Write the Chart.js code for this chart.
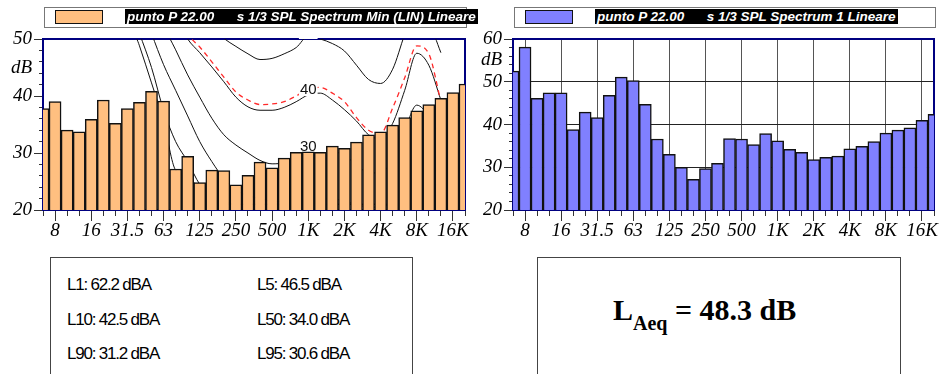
<!DOCTYPE html>
<html>
<head>
<meta charset="utf-8">
<script src="https://cdn.jsdelivr.net/npm/chart.js@4.4.1/dist/chart.umd.min.js"></script>
<style>
  html, body { margin: 0; padding: 0; background: #fff; }
  body { width: 939px; height: 374px; position: relative; overflow: hidden; font-family: 'Liberation Sans', Arial, sans-serif; }
  canvas { position: absolute; top: 0; }
  #chartMin { left: 0; }
  #chartOne { left: 470px; }
  .legend { position: absolute; top: 7px; height: 19px; border: 1px solid #777; background: #fff; z-index: 2; }
  .legend .swatch { position: absolute; top: 2px; left: 10px; width: 46px; height: 12px; border: 1px solid #111; }
  .legend .caption { position: absolute; top: 1px; left: 80px; height: 15px; line-height: 15px; background: #000; color: #fff;
    font: italic bold 13.5px 'Liberation Sans', Arial, sans-serif; white-space: pre; padding: 0 2px; }
  .box { position: absolute; top: 257px; height: 140px; border: 1px solid #444; background: #fff; }
  .stat { position: absolute; font: 17px 'Liberation Sans', Arial, sans-serif; letter-spacing: -1.2px; line-height: 20px; color: #000; white-space: pre; }
  .laeq { position: absolute; left: 613px; top: 295px; font: bold 30px 'Liberation Serif', 'Times New Roman', serif; line-height: 30px; color: #000; white-space: pre; }
  .laeq sub { font-size: 20px; vertical-align: -10px; line-height: 0; }
</style>
</head>
<body>
<canvas id="chartMin" width="470" height="250"></canvas>
<canvas id="chartOne" width="469" height="250"></canvas>

<div class="legend" style="left:44px;width:421px;">
  <div class="swatch" style="background:#FFBF80;"></div>
  <div class="caption" id="capMin"></div>
</div>
<div class="legend" style="left:514px;width:420px;">
  <div class="swatch" style="background:#8080FF;"></div>
  <div class="caption" id="capOne"></div>
</div>

<div class="box" style="left:50px;width:361px;"></div>
<div class="stat" style="left:67px;top:275px;">L1: 62.2 dBA</div>
<div class="stat" style="left:257px;top:275px;">L5: 46.5 dBA</div>
<div class="stat" style="left:67px;top:310px;">L10: 42.5 dBA</div>
<div class="stat" style="left:257px;top:310px;">L50: 34.0 dBA</div>
<div class="stat" style="left:67px;top:344px;">L90: 31.2 dBA</div>
<div class="stat" style="left:257px;top:344px;">L95: 30.6 dBA</div>

<div class="box" style="left:537px;width:362px;"></div>
<div class="laeq">L<sub>Aeq</sub> = 48.3 dB</div>

<script>
// 1/3-octave band centre frequencies (Hz)
const bands = ['6.3','8','10','12.5','16','20','25','31.5','40','50','63','80','100','125','160',
  '200','250','315','400','500','630','800','1K','1.25K','1.6K','2K','2.5K','3.15K','4K','5K',
  '6.3K','8K','10K','12.5K','16K','20K'];
// bands that carry a label on the frequency axis
const octaveBands = ['8','16','31.5','63','125','250','500','1K','2K','4K','8K','16K'];

// Spectrum Min (LIN), dB
const spectrumMin = [37.8, 39.0, 34.0, 33.7, 35.9, 39.3, 35.2, 37.8, 38.9, 40.8, 39.1, 27.2,
  29.4, 24.8, 27.0, 26.9, 24.4, 26.1, 28.4, 27.4, 29.1, 30.1, 30.2, 30.1, 31.2, 30.8, 31.9,
  33.2, 33.7, 34.9, 36.2, 37.4, 38.5, 39.6, 40.6, 42.1];
// Spectrum 1, dB
const spectrum1 = [52.5, 58.1, 46.1, 47.4, 47.4, 38.8, 42.9, 41.6, 46.8, 51.1, 50.3, 44.7,
  36.6, 33.0, 30.0, 27.2, 29.7, 30.9, 36.7, 36.6, 35.3, 37.9, 36.2, 34.2, 33.5, 31.8, 32.3,
  32.6, 34.3, 34.9, 36.0, 38.0, 38.7, 39.2, 41.0, 42.4];

// loudness contours drawn behind the min spectrum, dB per band (defined up to 12.5 kHz)
const iso50 = [90, 86, 82, 78, 75, 72, 69, 66, 63, 61, 59, 57.5, 55.5, 53.5, 52.0, 50.1, 48.7,
  47.4, 46.4, 46.6, 47.4, 48.5, 50.5, 50.0, 49.2, 47.9, 45.4, 42.9, 42.2, 44.7, 50.8, 56, 53,
  47.6, null, null];
const iso40 = [92, 88, 84, 80, 76, 73, 70, 67, 64, 61, 57.5, 54, 50.0, 47.6, 45.1, 42.5, 39.8,
  38.1, 37.5, 37.5, 38.0, 39.0, 40.2, 40.5, 39.3, 37.6, 35.6, 33.2, 32.5, 35.2, 41.0, 47.5,
  45.4, 39.3, null, null];
const iso40ref = [93, 89, 85, 81, 77, 74, 71, 68, 65, 62, 58.5, 54.5, 50.8, 48.6, 46.0, 43.3,
  40.7, 39.3, 38.5, 38.6, 39.0, 40.0, 41.2, 41.5, 40.5, 39.0, 36.2, 34.0, 33.4, 37.9, 43.2,
  48.8, 47.4, 39.0, null, null];
const iso30 = [95, 91, 87, 83, 79, 75, 71, 67, 63, 59, 52.5, 48.1, 43.7, 39.8, 36.1, 33.2, 31.4,
  30.0, 28.7, 28.1, 28.3, 29.2, 30.0, 29.8, 30.3, 29.5, 28.0, 26.5, 26.5, 29.0, 34.0, 38.4,
  36.5, 33.0, null, null];
const iso20 = [96, 92, 88, 84, 80, 76, 72, 66, 57, 51.0, 45.5, 41.0, 36.5, 32.0, 28.5, 25.5,
  23.5, 22.5, 22, 21.5, 21.5, 21.5, 21.5, 22, 22, 21.5, 21, 20.5, 20.5, 21.5, 24, 27, 28, 26,
  null, null];
const iso10 = [97, 93, 89, 85, 81, 76, 70, 57, 51.0, 45.0, 37.5, 32.0, 28.5, 24.5, 22.5, 21.5,
  21, 21, 21, 21, 21, 21, 21, 21, 21, 21, 21, 21, 21, 21, 22, 24, 25, 24, null, null];
const iso0 = [98, 94, 90, 86, 82, 77, 70, 55, 48.8, 42.3, 35.5, 27.0, 26.0, 23.5, 22, 21, 21,
  21, 21, 21, 21, 21, 21, 21, 21, 21, 21, 21, 21, 21, 21, 22, 23, 22, null, null];
const contourLevels = [50, 40, 30];

// level axis labels
const levelLabelsMin = [20, 30, 40, 50];
const levelLabelsOne = [20, 30, 40, 50, 60];

document.getElementById('capMin').textContent = 'punto P 22.00      s 1/3 SPL Spectrum Min (LIN) Lineare';
document.getElementById('capOne').textContent = 'punto P 22.00      s 1/3 SPL Spectrum 1 Lineare';

const serifItalic = { family: "'Liberation Serif', 'Times New Roman', serif", size: 19, style: 'italic', lineHeight: 1 };
const CLEAR = 'rgba(0,0,0,0)';

// navy frame around the plot area
const plotFrame = {
  id: 'plotFrame',
  beforeDatasetsDraw(chart) {
    const { ctx, chartArea: a } = chart;
    ctx.save();
    ctx.strokeStyle = '#000080';
    ctx.lineWidth = 2;
    ctx.strokeRect(a.left, a.top, a.right - a.left, a.bottom - a.top);
    ctx.restore();
  }
};

// contour level tags, placed at 1 kHz just before the bars are painted
const contourTags = {
  id: 'contourTags',
  beforeDatasetDraw(chart, args) {
    const ds = chart.data.datasets[args.index];
    if (ds.type !== 'bar') return;
    const { ctx, chartArea: a, scales: { x, y } } = chart;
    ctx.save();
    ctx.beginPath();
    ctx.rect(a.left, a.top - 1, a.right - a.left, a.bottom - a.top + 1);
    ctx.clip();
    ctx.font = "15px 'Liberation Sans', Arial, sans-serif";
    ctx.textAlign = 'center';
    ctx.textBaseline = 'middle';
    const px = x.getPixelForValue(bands.indexOf('1K'));
    contourLevels.forEach(level => {
      const py = y.getPixelForValue(level) - 6;
      const txt = String(level);
      const w = ctx.measureText(txt).width + 2;
      ctx.fillStyle = '#fff';
      ctx.fillRect(px - w / 2, py - 6, w, 12);
      ctx.fillStyle = '#111';
      ctx.fillText(txt, px, py);
    });
    ctx.restore();
  }
};

function levelTicks(min, max, unitAt) {
  const list = [];
  for (let v = min; v <= max; v += 2) list.push(v);
  list.push(unitAt);
  return list.sort((p, q) => p - q);
}

function spectrumChart(id, datasets, opts) {
  const tickValues = levelTicks(opts.min, opts.max, opts.unitAt);
  return new Chart(document.getElementById(id), {
    type: 'bar',
    data: { labels: bands, datasets },
    options: {
      responsive: false,
      animation: false,
      devicePixelRatio: 1,
      layout: { padding: { top: 39, right: 5, left: 0, bottom: 0 } },
      plugins: { legend: { display: false }, tooltip: { enabled: false } },
      scales: {
        x: {
          type: 'category',
          offset: false,
          afterFit: s => { s.height = 40; },
          border: { display: false },
          grid: {
            offset: false,
            drawOnChartArea: opts.gridlines,
            lineWidth: 1,
            color: c => octaveBands.includes(bands[c.index]) ? '#555' : CLEAR,
            tickLength: 11,
            tickWidth: 1,
            tickColor: '#333',
            tickBorderDash: c => octaveBands.includes(bands[c.index]) ? [] : [6, 40]
          },
          ticks: {
            autoSkip: false, maxRotation: 0, minRotation: 0, padding: 0, color: '#000', font: serifItalic,
            callback: (v, i) => octaveBands.includes(bands[i]) ? bands[i] : ''
          }
        },
        y: {
          min: opts.min,
          max: opts.max,
          afterBuildTicks: s => { s.ticks = tickValues.map(v => ({ value: v })); },
          afterFit: s => { s.width = 43; },
          border: { display: false },
          grid: {
            drawOnChartArea: opts.gridlines,
            lineWidth: 1,
            color: c => (c.tick && opts.gridAt.includes(c.tick.value)) ? '#222' : CLEAR,
            tickLength: 9,
            tickWidth: 1,
            tickColor: c => (c.tick && c.tick.value === opts.unitAt) ? CLEAR : '#333',
            tickBorderDash: c => (c.tick && opts.labels.includes(c.tick.value)) ? [] : [0, 5, 4, 40]
          },
          ticks: {
            autoSkip: false, padding: 2, color: '#000', font: serifItalic,
            callback: v => v === opts.unitAt ? 'dB' : (opts.labels.includes(v) ? String(v) : '')
          }
        }
      }
    },
    plugins: opts.plugins
  });
}

function contour(data, color, dash, width) {
  return {
    type: 'line', data, borderColor: color, borderWidth: width, borderDash: dash,
    pointRadius: 0, fill: false, spanGaps: false, cubicInterpolationMode: 'monotone', order: 1, clip: 0
  };
}

function spectrumBars(label, data, fill) {
  return {
    type: 'bar', label, data, backgroundColor: fill, borderColor: '#111', borderWidth: 1.5,
    barPercentage: 1, categoryPercentage: 1, order: 0, clip: 0
  };
}

spectrumChart('chartMin', [
  spectrumBars('punto P 22.00 s 1/3 SPL Spectrum Min (LIN) Lineare', spectrumMin, '#FFBF80'),
  contour(iso50, '#111', [], 1),
  contour(iso40ref, '#ff2a2a', [5, 4], 1.3),
  contour(iso40, '#111', [], 1),
  contour(iso30, '#111', [], 1),
  contour(iso20, '#111', [], 1),
  contour(iso10, '#111', [], 1),
  contour(iso0, '#111', [], 1)
], { min: 20, max: 50, unitAt: 45, labels: levelLabelsMin, gridlines: false, gridAt: [], plugins: [plotFrame, contourTags] });

spectrumChart('chartOne', [
  spectrumBars('punto P 22.00 s 1/3 SPL Spectrum 1 Lineare', spectrum1, '#8080FF')
], { min: 20, max: 60, unitAt: 55, labels: levelLabelsOne, gridlines: true, gridAt: [30, 40, 50], plugins: [plotFrame] });
</script>
</body>
</html>
